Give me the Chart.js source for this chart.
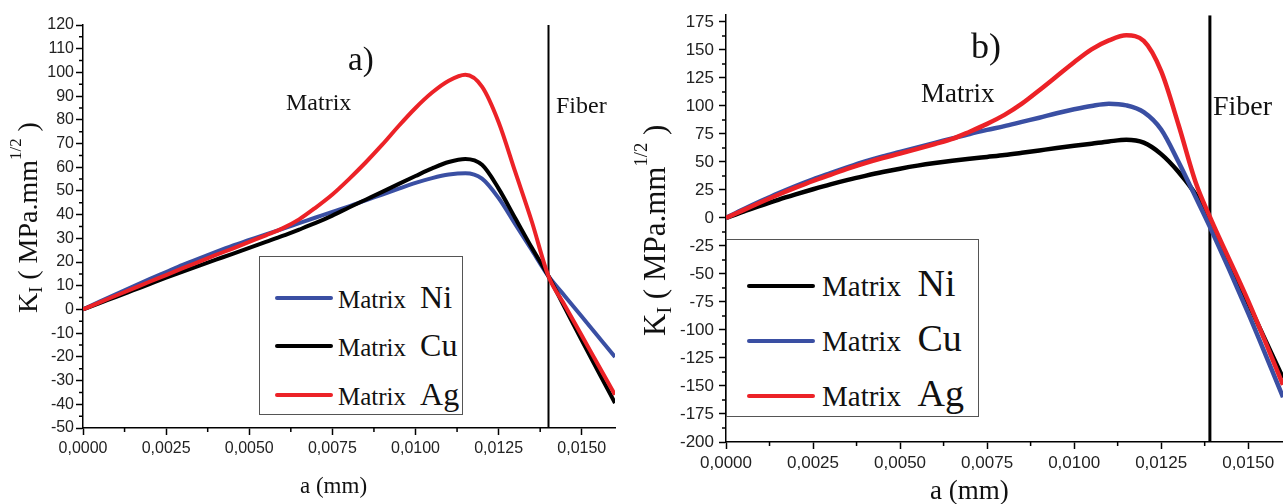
<!DOCTYPE html>
<html>
<head>
<meta charset="utf-8">
<script src="https://cdn.jsdelivr.net/npm/chart.js@4.4.1/dist/chart.umd.min.js"></script>
<style>
  html, body { margin: 0; padding: 0; background: #fff; }
  #wrap { position: relative; width: 1283px; height: 504px; overflow: hidden;
          font-family: "Liberation Serif", "DejaVu Serif", serif; color: #111; }
  canvas { position: absolute; top: 0; }
  .txt { position: absolute; line-height: 1; white-space: nowrap; }
  .ytitle { position: absolute; line-height: 1; white-space: nowrap;
            transform-origin: 0 0; transform: rotate(-90deg); }
  .ytitle sub { font-size: 0.65em; position: relative; top: 0.3em; vertical-align: baseline; }
  .ytitle sup { font-size: 0.6em; position: relative; top: -0.95em; vertical-align: baseline; }
  .legend { position: absolute; border: 1px solid #555; background: #fff; box-sizing: border-box; }
  .swatch { position: absolute; height: 4px; border-radius: 2px; }
</style>
</head>
<body>
<div id="wrap">
  <canvas id="chartA" width="630" height="504" style="left:0"></canvas>
  <canvas id="chartB" width="653" height="504" style="left:630px"></canvas>
</div>
<script>
// ---- data ----
// a) left panel
const xLeft  = [0, 0.0005, 0.001, 0.0015, 0.002, 0.0025, 0.003, 0.0035, 0.004, 0.0045,
                0.005, 0.0055, 0.006, 0.0065, 0.007, 0.0075, 0.008, 0.0085, 0.009, 0.0095,
                0.010, 0.0105, 0.011, 0.0115, 0.012, 0.0125, 0.013, 0.0135, 0.014, 0.0145,
                0.015, 0.0155, 0.016];
const niLeft = [0, 3.3, 6.5, 9.7, 12.8, 15.8, 18.8, 21.6, 24.3, 26.9,
                29.3, 31.7, 34, 36.4, 38.8, 41.2, 43.5, 46, 48.5, 51,
                53.4, 55.4, 56.9, 57.5, 55.2, 47, 36, 25, 14, 5.5,
                -3, -11.5, -20];
const cuLeft = [0, 2.7, 5.3, 8, 10.7, 13.4, 16, 18.5, 21, 23.5,
                26, 28.5, 31, 33.7, 36.5, 39.6, 43, 46.3, 49.6, 53,
                56.3, 59.5, 62.2, 63.5, 61, 51, 38.5, 26, 14, 0.5,
                -13, -26.3, -39.5];
const agLeft = [0, 3, 5.9, 8.8, 11.7, 14.5, 17.4, 20.2, 23, 25.7,
                28.5, 31.3, 34.2, 38, 43, 48.5, 55, 62, 69.5, 77.5,
                85, 91.5, 96.5, 99, 94, 79, 58, 37, 14, 1.5,
                -11, -23.5, -36];
const fiberLeft = 0.014;

// b) right panel
const xRight  = [0, 0.0005, 0.001, 0.0015, 0.002, 0.0025, 0.003, 0.0035, 0.004, 0.0045,
                 0.005, 0.0055, 0.006, 0.0065, 0.007, 0.0075, 0.008, 0.0085, 0.009, 0.0095,
                 0.010, 0.0105, 0.011, 0.0115, 0.012, 0.0125, 0.013, 0.0135, 0.0139, 0.015,
                 0.016];
const niRight = [0, 5.7, 11, 16.2, 21, 25.6, 30, 34, 37.6, 41,
                 44, 46.7, 49, 51, 52.8, 54.5, 56.2, 58.2, 60.3, 62.4,
                 64.4, 66.3, 68.3, 69.8, 67.2, 57, 41, 20.5, -3.5, -76,
                 -143];
const cuRight = [0, 7.7, 15, 22, 28.5, 34.5, 40, 45.4, 50.5, 55,
                 59, 63, 67, 71, 75, 78.6, 82, 85.8, 89.5, 93.5,
                 97, 100, 102, 100.5, 94.5, 79, 50, 18, -8, -85,
                 -160];
const agRight = [0, 7, 14, 20.7, 27, 33, 38.5, 44, 49, 53.5,
                 57.5, 61.7, 66, 70.5, 77, 84, 92, 102, 114, 126.5,
                 139, 150.5, 158.5, 163, 158, 131, 83, 31, 1, -74,
                 -149];
const fiberRight = 0.0139;

// ticks
const xTicks = [0, 0.0025, 0.005, 0.0075, 0.010, 0.0125, 0.015];
const yTicksLeft = [-50, -40, -30, -20, -10, 0, 10, 20, 30, 40, 50, 60, 70, 80, 90, 100, 110, 120];
const yTicksRight = [-200, -175, -150, -125, -100, -75, -50, -25, 0, 25, 50, 75, 100, 125, 150, 175];

const BLUE = '#3a4fa3';
const RED = '#ec2227';
const BLACK = '#000000';

// ---- helpers ----
const pairs = (xs, ys) => xs.map((x, i) => ({ x: x, y: ys[i] }));
const mids = arr => arr.slice(0, -1).map((v, i) => (v + arr[i + 1]) / 2);

const minorTicks = {
    id: 'minorTicks',
    afterDraw(chart, args, opts) {
        const ctx = chart.ctx;
        const xs = chart.scales.x, ys = chart.scales.y;
        ctx.save();
        ctx.strokeStyle = '#000';
        ctx.lineWidth = 1.5;
        ctx.beginPath();
        opts.x.forEach(v => {
            const px = xs.getPixelForValue(v);
            ctx.moveTo(px, xs.top); ctx.lineTo(px, xs.top + 4);
        });
        opts.y.forEach(v => {
            const py = ys.getPixelForValue(v);
            ctx.moveTo(ys.right, py); ctx.lineTo(ys.right - 4, py);
        });
        ctx.stroke();
        ctx.restore();
    }
};

function buildChart(canvas, o) {
    const datasets = o.series.map(s => ({
        label: s.label,
        data: pairs(o.xs, s.values),
        borderColor: s.color,
        borderWidth: o.lineWidth,
        pointRadius: 0,
        cubicInterpolationMode: 'monotone',
        fill: false,
        order: s.order
    }));
    datasets.push({
        label: 'Fiber',
        data: [{ x: o.fiber, y: o.yMin }, { x: o.fiber, y: o.yMax }],
        borderColor: '#000',
        borderWidth: o.fiberWidth,
        pointRadius: 0,
        order: 10
    });

    const tickFont = { family: '"Liberation Sans", Arial, sans-serif', size: o.tickSize };
    return new Chart(canvas, {
        type: 'line',
        data: { datasets: datasets },
        plugins: [minorTicks],
        options: {
            responsive: false,
            animation: false,
            events: [],
            layout: { padding: o.padding },
            plugins: {
                legend: { display: false },
                tooltip: { enabled: false },
                minorTicks: {
                    x: mids(xTicks).concat([0.01375]),
                    y: mids(o.yTicks)
                }
            },
            scales: {
                x: {
                    type: 'linear', min: 0, max: 0.016,
                    afterBuildTicks: s => { s.ticks = xTicks.map(v => ({ value: v })); },
                    afterFit: s => { s.height = o.xHeight; },
                    grid: { drawOnChartArea: false, drawTicks: true, tickLength: 7, tickWidth: 1.5, tickColor: '#000' },
                    border: { display: true, color: '#000', width: 1.5 },
                    ticks: {
                        autoSkip: false, maxRotation: 0, padding: 4, color: '#222', font: tickFont,
                        callback: v => v.toFixed(4).replace('.', ',')
                    }
                },
                y: {
                    type: 'linear', min: o.yMin, max: o.yMax,
                    afterBuildTicks: s => { s.ticks = o.yTicks.map(v => ({ value: v })); },
                    afterFit: s => { s.width = o.yWidth; },
                    grid: { drawOnChartArea: false, drawTicks: true, tickLength: 7, tickWidth: 1.5, tickColor: '#000' },
                    border: { display: true, color: '#000', width: 1.5 },
                    ticks: { autoSkip: false, padding: o.yPad, color: '#222', font: tickFont }
                }
            }
        }
    });
}

buildChart(document.getElementById('chartA'), {
    xs: xLeft,
    series: [
        { label: 'Ni', values: niLeft, color: BLUE, order: 3 },
        { label: 'Cu', values: cuLeft, color: BLACK, order: 2 },
        { label: 'Ag', values: agLeft, color: RED, order: 1 }
    ],
    fiber: fiberLeft, fiberWidth: 2, lineWidth: 4,
    yMin: -50, yMax: 120, yTicks: yTicksLeft,
    padding: { left: 0, right: 15, top: 25, bottom: 0 },
    yWidth: 83, xHeight: 76, tickSize: 16, yPad: 2
});

buildChart(document.getElementById('chartB'), {
    xs: xRight,
    series: [
        { label: 'Ni', values: niRight, color: BLACK, order: 3 },
        { label: 'Cu', values: cuRight, color: BLUE, order: 2 },
        { label: 'Ag', values: agRight, color: RED, order: 1 }
    ],
    fiber: fiberRight, fiberWidth: 3, lineWidth: 4.5,
    yMin: -200, yMax: 181, yTicks: yTicksRight,
    padding: { left: 0, right: 0, top: 15, bottom: 0 },
    yWidth: 96, xHeight: 62, tickSize: 17, yPad: 5
});

// ---- text and legends (html overlay) ----
const wrap = document.getElementById('wrap');
const ASC = 0.8375; // baseline offset for line-height 1

function addText(str, x, baseline, size) {
    const d = document.createElement('div');
    d.className = 'txt';
    d.style.left = x + 'px';
    d.style.top = (baseline - ASC * size) + 'px';
    d.style.fontSize = size + 'px';
    d.textContent = str;
    wrap.appendChild(d);
}

function addYTitle(baselineX, startY, size) {
    const d = document.createElement('div');
    d.className = 'ytitle';
    d.style.fontSize = size + 'px';
    d.style.left = (baselineX - ASC * size) + 'px';
    d.style.top = startY + 'px';
    d.innerHTML = 'K<sub>I</sub> ( MPa.mm<sup>1/2</sup> )';
    wrap.appendChild(d);
}

function addLegend(box, rows, names, colors, lineX0, lineX1, textX, matrixSize, elemSize, gap) {
    const b = document.createElement('div');
    b.className = 'legend';
    b.style.left = box.x + 'px';
    b.style.top = box.y + 'px';
    b.style.width = box.w + 'px';
    b.style.height = box.h + 'px';
    wrap.appendChild(b);
    names.forEach((name, i) => {
        const sw = document.createElement('div');
        sw.className = 'swatch';
        sw.style.left = lineX0 + 'px';
        sw.style.width = (lineX1 - lineX0) + 'px';
        sw.style.top = (rows[i] - 2) + 'px';
        sw.style.background = colors[i];
        wrap.appendChild(sw);

        const t = document.createElement('div');
        t.className = 'txt';
        t.style.left = textX + 'px';
        t.style.fontSize = elemSize + 'px';
        t.style.top = (rows[i] + 9.5 - ASC * elemSize) + 'px';
        t.innerHTML = '<span style="font-size:' + matrixSize + 'px">Matrix</span> ' +
                      '<span style="margin-left:' + gap + 'px">' + name + '</span>';
        wrap.appendChild(t);
    });
}

// panel a
addText('a)', 348, 71, 33);
addText('Matrix', 286, 110, 24);
addText('Fiber', 556, 113, 24);
addText('a (mm)', 300, 493, 23);
addYTitle(37, 313, 28);
addLegend({ x: 259, y: 256, w: 204, h: 159 }, [298, 346, 395],
          ['Ni', 'Cu', 'Ag'], [BLUE, BLACK, RED], 275, 333, 338, 25, 32, 6);

// panel b
addText('b)', 971, 58, 36);
addText('Matrix', 921, 103, 27);
addText('Fiber', 1213, 115, 28);
addText('a (mm)', 930, 500, 27);
addYTitle(665, 336, 31);
addLegend({ x: 726, y: 239, w: 253, h: 178 }, [286, 341, 396],
          ['Ni', 'Cu', 'Ag'], [BLACK, BLUE, RED], 747, 815, 822, 29, 38, 7);
</script>
</body>
</html>
